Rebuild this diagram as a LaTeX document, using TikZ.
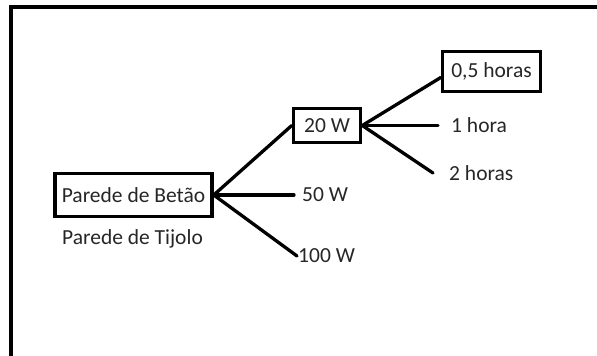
\documentclass[tikz,border=0pt]{standalone}
\usepackage{fontspec}
\setmainfont{Carlito}
\begin{document}
\begin{tikzpicture}[x=1pt,y=-1pt,
  lbl/.style={font=\fontsize{21.5}{26}\selectfont, text=black!85, inner sep=0pt},
  boxed/.style={lbl, draw=black, line width=3.5pt, text=black!85},
  conn/.style={line width=3.3pt, line cap=round}]
\useasboundingbox (0,0) rectangle (597,356);
\draw[line width=3.3pt] (11,356) -- (11,7) -- (597,7);
\node[boxed, minimum width=157pt, minimum height=43pt] (betao) at (133.5,195) {Parede de Betão};
\node[lbl] (tijolo) at (132.5,239) {Parede de Tijolo};
\node[boxed, minimum width=67pt, minimum height=34pt] (w20) at (327,125.5) {20 W};
\node[lbl, anchor=west, inner xsep=8pt] (w50) at (294,195) {50 W};
\node[lbl, anchor=west, inner xsep=1pt] (w100) at (297,256) {100 W};
\node[boxed, minimum width=98pt, minimum height=40pt] (h05) at (491.5,71.5) {0,5 horas};
\node[lbl, anchor=west, inner xsep=13pt] (h1) at (438,125.5) {1 hora};
\node[lbl, anchor=west, inner xsep=16pt] (h2) at (433,173) {2 horas};
\draw[conn] (betao.east) -- (w20.west);
\draw[conn] (betao.east) -- (w50.west);
\draw[conn] (betao.east) -- (w100.west);
\draw[conn] (w20.east) -- ([yshift=-6pt]h05.west);
\draw[conn] (w20.east) -- (h1.west);
\draw[conn] (w20.east) -- (h2.west);
\end{tikzpicture}
\end{document}
